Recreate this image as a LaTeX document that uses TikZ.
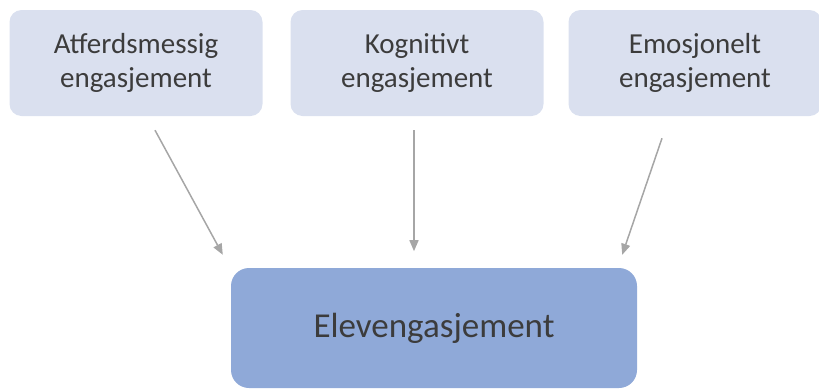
\documentclass[tikz,border=0pt]{standalone}
\usepackage{fontspec}
\setmainfont{Carlito}
\usepackage{tikz}
\usetikzlibrary{positioning,arrows.meta,calc}
\definecolor{softblue}{HTML}{DAE0EF}
\definecolor{midblue}{HTML}{8FA9D8}
\definecolor{inkgray}{HTML}{3C3C3C}
\definecolor{arrowgray}{HTML}{A6A6A6}

\begin{document}
\begin{tikzpicture}[
  x=1pt, y=1pt,
  every node/.style={text=inkgray},
  part/.style={fill=softblue, rounded corners=12pt, minimum width=253pt,
               minimum height=106pt, align=center,
               font=\fontsize{29}{34}\selectfont},
  whole/.style={fill=midblue, rounded corners=18pt, minimum width=406pt,
                minimum height=120pt, font=\fontsize{35}{40}\selectfont},
  ar/.style={-{Triangle[length=11pt, width=9pt]}, arrowgray, line width=1.5pt},
]
\useasboundingbox (0,0) rectangle (819,-389);

% three sides of engagement
\node[part] (atf) at (136,-63) {Atferdsmessig\\engasjement};
\node[part] (kog) at (417,-63) {Kognitivt\\engasjement};
\node[part] (emo) at (695,-63) {Emosjonelt\\engasjement};

% the whole
\node[whole] (elev) at (434,-328) {Elevengasjement};

% arrows
\draw[ar] ($(atf.south)+(19,-14)$) -- ($(elev.north west)+(-8,13)$);
\draw[ar] ($(kog.south)+(-3,-14)$) -- ($(kog.south)+(-3,-135)$);
\draw[ar] ($(emo.south)+(-33,-22)$) -- ($(elev.north east)+(-15,13)$);
\end{tikzpicture}
\end{document}
